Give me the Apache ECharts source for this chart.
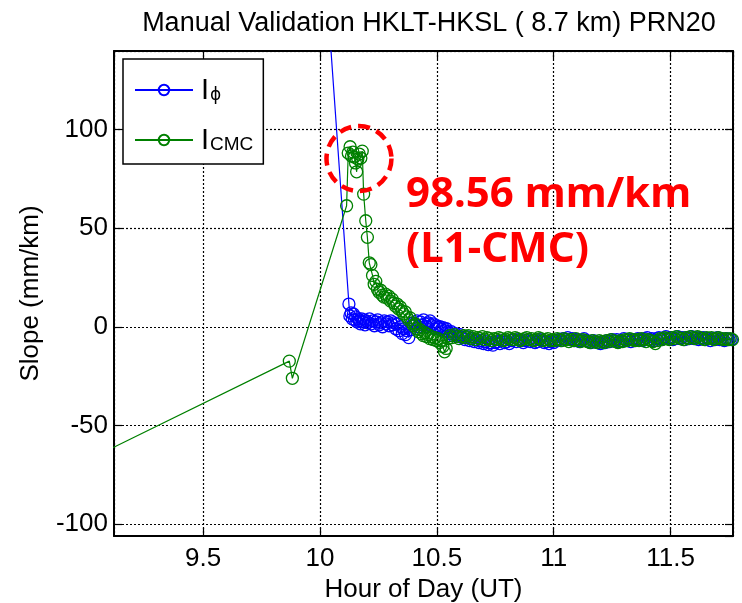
<!DOCTYPE html>
<html><head><meta charset="utf-8">
<script src="https://cdn.jsdelivr.net/npm/echarts@6/dist/echarts.min.js"></script>
<style>html,body{margin:0;padding:0;background:#fff}#c{width:742px;height:603px}</style>
</head><body><div id="c"></div>
<script>
const titleText = 'Manual Validation HKLT-HKSL ( 8.7 km) PRN20';
const xName = 'Hour of Day (UT)';
const yName = 'Slope (mm/km)';
const xRange = [9.119, 11.767];
const yRange = [-106, 139.7];
const seriesNames = ['I_phi', 'I_CMC'];

const phiX = [10.0, 10.124, 10.128, 10.133, 10.138, 10.143, 10.148, 10.153, 10.158, 10.163, 10.168, 10.173, 10.178, 10.183, 10.188, 10.193, 10.198,
  10.205, 10.212, 10.219, 10.226, 10.233, 10.24, 10.247, 10.254, 10.261, 10.268, 10.275, 10.282, 10.289, 10.296, 10.303, 10.31, 10.317, 10.324,
  10.331, 10.338, 10.345, 10.352, 10.359, 10.366, 10.373, 10.38, 10.387, 10.394, 10.401, 10.408, 10.415, 10.422, 10.429, 10.436, 10.443, 10.45,
  10.457, 10.464, 10.471, 10.478, 10.485, 10.492, 10.499, 10.506, 10.513, 10.52, 10.527, 10.534, 10.541, 10.548, 10.555, 10.562, 10.57, 10.58,
  10.59, 10.6, 10.61, 10.62, 10.63, 10.64, 10.65, 10.66, 10.67, 10.68, 10.69, 10.7, 10.71, 10.72, 10.73, 10.74, 10.75, 10.76, 10.77, 10.78, 10.79,
  10.8, 10.81, 10.82, 10.83, 10.84, 10.85, 10.86, 10.87, 10.88, 10.89, 10.9, 10.91, 10.92, 10.93, 10.94, 10.95, 10.96, 10.97, 10.98, 10.99, 11.0,
  11.01, 11.02, 11.03, 11.04, 11.05, 11.06, 11.07, 11.08, 11.09, 11.1, 11.11, 11.12, 11.13, 11.14, 11.15, 11.16, 11.17, 11.18, 11.19, 11.2, 11.21,
  11.22, 11.23, 11.24, 11.25, 11.26, 11.27, 11.28, 11.29, 11.3, 11.31, 11.32, 11.33, 11.34, 11.35, 11.36, 11.37, 11.38, 11.39, 11.4, 11.41, 11.42,
  11.43, 11.44, 11.45, 11.46, 11.47, 11.48, 11.49, 11.5, 11.51, 11.52, 11.53, 11.54, 11.55, 11.56, 11.57, 11.58, 11.59, 11.6, 11.61, 11.62, 11.63,
  11.64, 11.65, 11.66, 11.67, 11.68, 11.69, 11.7, 11.71, 11.72, 11.73, 11.74, 11.75, 11.76, 11.77];
const phiY = [219, 11.5, 5.5, 7, 4, 6.5, 3.5, 5, 2.5, 4, 3, 1.5, 4, 2.5, 3.5, 1, 3,
  2, 4, 1.5, 3, 0.5, 2.5, 3.5, 1, 2, 0, 3, 1.5, 2.5, 0.5, 3, 1, 2, -1,
  1.5, -2, 0, -3.5, -1, -4, -2, -5.5, -1.5, 0.5, 2, 1, 3, 0, 2.5, 1, 3.5, 1.5,
  0, 2, 3, 0.5, 1.5, -1, 0.5, -0.5, 0, -1.5, -0.5, -2, -1, -2.5, -3.5, -2.5, -4.5, -3.5,
  -5, -4, -5.5, -6.5, -5, -7, -6, -7.5, -6.5, -8, -7, -8.5, -7.5, -9, -8, -9.3, -8, -7.5, -8.5, -7, -8,
  -7.5, -8.5, -7, -6.5, -7.5, -6.5, -7, -8, -7, -6.5, -7.5, -7, -8, -7.5, -6.5, -7, -8, -7.5, -8.5, -7.5, -8,
  -7, -6.5, -7, -6, -6.5, -5.5, -6.5, -6, -7, -6.5, -7.5, -7, -6, -7, -7.5, -8, -7, -7.5, -8, -8.5, -7.5,
  -8, -7, -7.5, -6.5, -7, -6.5, -7.5, -7, -6, -7, -6.5, -7.5, -6.5, -7, -6, -6.5, -7, -6, -5.5, -6.5, -6,
  -7, -6, -5.5, -6.5, -6, -5, -6, -5.5, -6.5, -6, -5, -6, -5.5, -6.5, -5.5, -6, -5, -6, -5.5, -6.5, -6,
  -5.5, -6.5, -6, -7, -6, -6.5, -5.5, -6.5, -6, -7, -6, -6.5, -6.5, -6.5];

const cmcX = [8.5, 9.869, 9.882, 10.114, 10.121, 10.129, 10.135, 10.141, 10.147, 10.152, 10.157, 10.162, 10.168, 10.175, 10.181, 10.187, 10.196,
  10.203, 10.211, 10.218, 10.225, 10.232, 10.239, 10.246, 10.253, 10.26, 10.267, 10.274, 10.281, 10.288, 10.295, 10.302, 10.309, 10.316, 10.323,
  10.33, 10.337, 10.344, 10.351, 10.358, 10.365, 10.372, 10.379, 10.386, 10.393, 10.4, 10.407, 10.414, 10.421, 10.428, 10.435, 10.442, 10.449,
  10.456, 10.463, 10.47, 10.477, 10.484, 10.491, 10.498, 10.505, 10.512, 10.519, 10.526, 10.533, 10.54, 10.547, 10.555, 10.565, 10.575, 10.585,
  10.595, 10.605, 10.615, 10.625, 10.635, 10.645, 10.655, 10.665, 10.675, 10.685, 10.695, 10.705, 10.715, 10.725, 10.735, 10.745, 10.755, 10.765,
  10.775, 10.785, 10.795, 10.805, 10.815, 10.825, 10.835, 10.845, 10.855, 10.865, 10.875, 10.885, 10.895, 10.905, 10.915, 10.925, 10.935, 10.945,
  10.955, 10.965, 10.975, 10.985, 10.995, 11.005, 11.015, 11.025, 11.035, 11.045, 11.055, 11.065, 11.075, 11.085, 11.095, 11.105, 11.115, 11.125,
  11.135, 11.145, 11.155, 11.165, 11.175, 11.185, 11.195, 11.205, 11.215, 11.225, 11.235, 11.245, 11.255, 11.265, 11.275, 11.285, 11.295, 11.305,
  11.315, 11.325, 11.335, 11.345, 11.355, 11.365, 11.375, 11.385, 11.395, 11.405, 11.415, 11.425, 11.435, 11.445, 11.455, 11.465, 11.475, 11.485,
  11.495, 11.505, 11.515, 11.525, 11.535, 11.545, 11.555, 11.565, 11.575, 11.585, 11.595, 11.605, 11.615, 11.625, 11.635, 11.645, 11.655, 11.665,
  11.675, 11.685, 11.695, 11.705, 11.715, 11.725, 11.735, 11.745, 11.755, 11.765];
const cmcY = [-97, -17.4, -26.1, 61.3, 88, 91.2, 86.5, 88.5, 86, 83, 78.5, 85, 87.5, 85.5, 89, 67.2, 53.7,
  45.3, 32.4, 31.5, 26, 21.5, 23, 19, 17.5, 18.5, 16, 15, 16.5, 14.5, 15.5, 13, 14, 12, 10.5,
  11.5, 9, 10, 8, 6.5, 7.5, 5, 3.5, 4.5, 2, 0.5, 1.5, -1, -2.5, -1.5, -3.5, -4.5, -3,
  -5, -4, -6, -5, -6.5, -5.5, -7, -6, -8, -7, -10, -12.7, -11, -6, -4.5, -5.5, -4, -5,
  -6, -5, -4.5, -5.5, -4.5, -6, -5, -6.5, -5.5, -6, -5, -6.5, -5.5, -6, -7, -6, -6.5, -5.5,
  -6, -7, -6.5, -5.5, -6, -6.5, -5.5, -6, -7, -6.5, -6, -5.5, -6.5, -6, -7, -6.5, -5.5, -6,
  -7, -6.5, -6, -7, -6.5, -7, -6, -6.5, -7, -6, -6.5, -7.5, -6.5, -7, -6, -7, -7.5, -6.5,
  -7, -7.5, -8, -7, -7.5, -8, -7, -7.5, -8, -7, -7.5, -6.5, -7, -7.5, -8, -7, -7.5, -6.5,
  -7, -6, -6.5, -7, -6.5, -7, -6, -6.5, -7.5, -6.5, -7, -7.5, -8.5, -7, -6, -6.5, -5.5, -6,
  -6.5, -5.5, -6, -5, -5.5, -6, -6.5, -5.5, -6, -5, -5.5, -6, -5, -5.5, -6, -6.5, -5.5, -6,
  -5.5, -6.5, -6, -5.5, -6, -6.5, -6, -6.5, -6, -6.5];

const noteLines = ['98.56 mm/km', '(L1-CMC)'];
const noteAnchor = [[10.368, 66.7], [10.368, 39.0]];
const highlightCenter = [10.167, 85.2];

const FONT = 'Liberation Sans, Arial, Helvetica, sans-serif';
const chart = echarts.init(document.getElementById('c'), null, {renderer: 'canvas'});
const toPairs = (xs, ys) => xs.map((x, i) => [x, ys[i]]);

const axisCommon = {
  type: 'value',
  axisLine: {show: true, onZero: false, lineStyle: {color: '#000', width: 2}},
  axisTick: {show: true, inside: true, length: 8, lineStyle: {color: '#000', width: 1.2}},
  splitNumber: 5
};
const gridLine = {show: true, lineStyle: {color: '#000', type: [2, 2], width: 1.2}};

chart.setOption({
  animation: false,
  backgroundColor: '#fff',
  title: {
    text: titleText, left: 424, top: 5, textAlign: 'center',
    textStyle: {fontFamily: FONT, fontSize: 27, fontWeight: 'normal', color: '#000'}
  },
  grid: {left: 114, top: 51, right: 9, bottom: 67, containLabel: false, outerBoundsMode: 'none'},
  legend: {
    left: 123, top: 59, orient: 'vertical',
    backgroundColor: '#fff', borderColor: '#000', borderWidth: 1.5, borderRadius: 0,
    padding: [8, 10, 9, 11], itemGap: 10, itemWidth: 58, itemHeight: 13,
    data: seriesNames,
    formatter: function (n) {
      return n === 'I_phi' ? '{a|I}{s|ϕ}' : '{a|I}{c|CMC}';
    },
    textStyle: {
      color: '#000',
      rich: {
        a: {fontFamily: FONT, fontSize: 29, lineHeight: 28, verticalAlign: 'top', color: '#000', padding: [0, 1, 0, 3]},
        s: {fontFamily: 'DejaVu Sans', fontSize: 17, lineHeight: 18, padding: [20, 0, 0, 0], verticalAlign: 'bottom', color: '#000'},
        c: {fontFamily: FONT, fontSize: 19, lineHeight: 18, padding: [20, 0, 0, 0], verticalAlign: 'bottom', color: '#000'}
      }
    }
  },
  xAxis: [
    Object.assign({}, axisCommon, {
      min: xRange[0], max: xRange[1], position: 'bottom',
      axisLabel: {color: '#000', fontFamily: FONT, fontSize: 26, margin: 10, showMinLabel: false, showMaxLabel: false},
      splitLine: gridLine,
      name: xName, nameLocation: 'middle', nameGap: 37,
      nameTextStyle: {color: '#000', fontFamily: FONT, fontSize: 26}
    }),
    Object.assign({}, axisCommon, {
      min: xRange[0], max: xRange[1], position: 'top',
      axisLabel: {show: false}, splitLine: {show: false}
    })
  ],
  yAxis: [
    Object.assign({}, axisCommon, {
      min: yRange[0], max: yRange[1], position: 'left',
      axisLabel: {color: '#000', fontFamily: FONT, fontSize: 26, margin: 6, showMinLabel: false, showMaxLabel: false},
      splitLine: gridLine,
      name: yName, nameLocation: 'middle', nameGap: 70,
      nameTextStyle: {color: '#000', fontFamily: FONT, fontSize: 26}
    }),
    Object.assign({}, axisCommon, {
      min: yRange[0], max: yRange[1], position: 'right',
      axisLabel: {show: false}, splitLine: {show: false}
    })
  ],
  series: [
    {
      name: seriesNames[0], type: 'line', data: toPairs(phiX, phiY),
      symbol: 'circle', symbolSize: 12, showSymbol: true,
      lineStyle: {color: '#0000ff', width: 1.2}, itemStyle: {color: 'rgba(0,0,0,0)', borderColor: '#0000ff', borderWidth: 1.3},
      clip: true, z: 2
    },
    {
      name: seriesNames[1], type: 'line', data: toPairs(cmcX, cmcY),
      symbol: 'circle', symbolSize: 12, showSymbol: true,
      lineStyle: {color: '#008000', width: 1.2}, itemStyle: {color: 'rgba(0,0,0,0)', borderColor: '#008000', borderWidth: 1.3},
      clip: true, z: 3
    }
  ]
});

const c = chart.convertToPixel({gridIndex: 0}, highlightCenter);
const t1 = chart.convertToPixel({gridIndex: 0}, noteAnchor[0]);
const t2 = chart.convertToPixel({gridIndex: 0}, noteAnchor[1]);
const NOTE_FONT = 'bold 42px "Noto Sans", sans-serif';
chart.setOption({
  graphic: [
    {type: 'circle', z: 100, shape: {cx: c[0], cy: c[1], r: 32.5},
     style: {fill: 'none', stroke: '#ff0000', lineWidth: 4.5, lineDash: [12, 7]}},
    {type: 'text', z: 100, x: t1[0], y: t1[1],
     style: {text: noteLines[0], font: NOTE_FONT, fill: '#ff0000', align: 'left', verticalAlign: 'middle'}},
    {type: 'text', z: 100, x: t2[0], y: t2[1],
     style: {text: noteLines[1], font: NOTE_FONT, fill: '#ff0000', align: 'left', verticalAlign: 'middle'}}
  ]
});
</script></body></html>
